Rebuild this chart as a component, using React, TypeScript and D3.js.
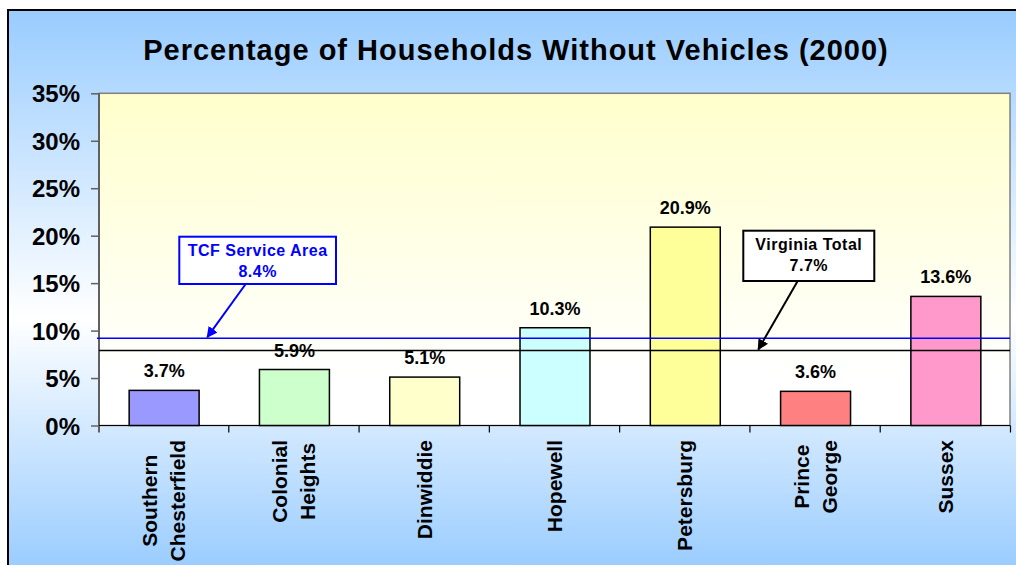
import React, { useEffect, useRef } from 'react';
import * as d3 from 'd3';

// data
const categories = ['Southern\nChesterfield', 'Colonial\nHeights', 'Dinwiddie', 'Hopewell', 'Petersburg', 'Prince\nGeorge', 'Sussex'];
const values = [3.7, 5.9, 5.1, 10.3, 20.9, 3.6, 13.6];
const barColors = ['#9999FF', '#CCFFCC', '#FFFFCC', '#CCFFFF', '#FFFF99', '#FF8080', '#FF99CC'];
const yTicks = [0, 5, 10, 15, 20, 25, 30, 35];

// reference lines: label value and the level the line sits at in the chart
const refNames = ['TCF Service Area', 'Virginia Total'];
const refValues = [8.4, 7.7];
const refLevels = [9.2, 7.9];

const FONT = '"Liberation Sans", Arial, Helvetica, sans-serif';
const W = 1016, H = 565;
const left = 99, right = 1011, top = 93.3, bottom = 425.5;

export default function App() {
  const ref = useRef<SVGSVGElement>(null);

  useEffect(() => {
    const svg = d3.select(ref.current);
    svg.selectAll('*').remove();

    const defs = svg.append('defs');
    const bg = defs.append('linearGradient').attr('id', 'bg')
      .attr('gradientUnits', 'userSpaceOnUse')
      .attr('x1', 0).attr('y1', 10).attr('x2', 0).attr('y2', 570);
    bg.append('stop').attr('offset', 0).attr('stop-color', '#99CCFF');
    bg.append('stop').attr('offset', 0.55).attr('stop-color', '#FFFFFF');
    bg.append('stop').attr('offset', 1).attr('stop-color', '#99CCFF');

    const pg = defs.append('linearGradient').attr('id', 'plotbg')
      .attr('x1', 0).attr('y1', 0).attr('x2', 0).attr('y2', 1);
    pg.append('stop').attr('offset', 0).attr('stop-color', '#FFFFCC');
    pg.append('stop').attr('offset', 0.85).attr('stop-color', '#FFFFFF');

    const marker = (id: string, color: string) => defs.append('marker')
      .attr('id', id).attr('viewBox', '0 0 10 10')
      .attr('refX', 9).attr('refY', 5)
      .attr('markerWidth', 5.5).attr('markerHeight', 5.5)
      .attr('markerUnits', 'strokeWidth')
      .attr('orient', 'auto')
      .append('path').attr('d', 'M0,0 L10,5 L0,10 z').attr('fill', color);
    marker('arrBlue', '#0000FF');
    marker('arrBlack', '#000000');

    // chart area background
    svg.append('rect')
      .attr('x', 8).attr('y', 10).attr('width', W + 20).attr('height', 700)
      .attr('fill', 'url(#bg)').attr('stroke', '#000').attr('stroke-width', 2);

    svg.append('text')
      .attr('x', 516).attr('y', 59.5)
      .attr('text-anchor', 'middle')
      .attr('font-family', FONT).attr('font-weight', 'bold').attr('font-size', 29)
      .attr('letter-spacing', 1)
      .text('Percentage of Households Without Vehicles (2000)');

    const x = d3.scaleBand<number>()
      .domain(d3.range(categories.length))
      .range([left, right])
      .paddingInner(0.463)
      .paddingOuter(0.2315);
    const y = d3.scaleLinear().domain([0, 35]).range([bottom, top]);

    // plot area
    svg.append('rect')
      .attr('x', left).attr('y', top)
      .attr('width', right - 1 - left).attr('height', bottom - top)
      .attr('fill', 'url(#plotbg)').attr('stroke', '#808080').attr('stroke-width', 1.5);

    // y axis
    const yAxis = svg.append('g')
      .attr('transform', `translate(${left},0)`)
      .call(d3.axisLeft(y).tickValues(yTicks).tickSize(8).tickPadding(11).tickFormat(d => `${d}%`));
    yAxis.select('.domain').remove();
    yAxis.selectAll('.tick line').attr('stroke', '#606060').attr('stroke-width', 1.5);
    yAxis.selectAll('.tick text')
      .attr('font-family', FONT).attr('font-weight', 'bold').attr('font-size', 24)
      .attr('fill', '#000').attr('dy', '0.36em');
    svg.append('line')
      .attr('x1', left).attr('x2', left).attr('y1', top).attr('y2', bottom + 7)
      .attr('stroke', '#606060').attr('stroke-width', 2);

    // bars
    svg.append('g').selectAll('rect')
      .data(values)
      .enter()
      .append('rect')
      .attr('x', (d, i) => x(i)!)
      .attr('y', d => y(d))
      .attr('width', x.bandwidth())
      .attr('height', d => y(0) - y(d))
      .attr('fill', (d, i) => barColors[i])
      .attr('stroke', '#000').attr('stroke-width', 1.5);

    svg.append('g').selectAll('text')
      .data(values)
      .enter()
      .append('text')
      .attr('x', (d, i) => x(i)! + x.bandwidth() / 2)
      .attr('y', d => y(d) - 13)
      .attr('text-anchor', 'middle')
      .attr('font-family', FONT).attr('font-weight', 'bold').attr('font-size', 18)
      .text(d => `${d.toFixed(1)}%`);

    // x axis
    svg.append('line')
      .attr('x1', left).attr('x2', right - 1).attr('y1', bottom).attr('y2', bottom)
      .attr('stroke', '#000').attr('stroke-width', 1.2);
    svg.append('g').selectAll('line')
      .data(d3.range(1, categories.length + 1))
      .enter()
      .append('line')
      .attr('x1', i => left + i * x.step() - 0.5)
      .attr('x2', i => left + i * x.step() - 0.5)
      .attr('y1', bottom).attr('y2', bottom + 7)
      .attr('stroke', '#000').attr('stroke-width', 1.2);

    // category labels, rotated, lines centred, block top-aligned
    categories.forEach((c, i) => {
      const lines = c.split('\n');
      const g = svg.append('g');
      const texts = lines.map((l, j) => g.append('text')
        .attr('text-anchor', 'middle')
        .attr('y', (j - (lines.length - 1) / 2) * 28 + 7)
        .attr('font-family', FONT).attr('font-weight', 'bold').attr('font-size', 21)
        .text(l));
      const maxLen = d3.max(texts, t => (t.node() as SVGTextElement).getComputedTextLength()) || 0;
      const cx = x(i)! + x.bandwidth() / 2;
      g.attr('transform', `translate(${cx},${440 + maxLen / 2}) rotate(-90)`);
    });

    // reference lines
    svg.append('line')
      .attr('x1', left - 2).attr('x2', right - 1)
      .attr('y1', y(refLevels[0])).attr('y2', y(refLevels[0]))
      .attr('stroke', '#0000FF').attr('stroke-width', 1.5);
    svg.append('line')
      .attr('x1', left).attr('x2', right - 1)
      .attr('y1', y(refLevels[1])).attr('y2', y(refLevels[1]))
      .attr('stroke', '#000').attr('stroke-width', 1.5);

    // callouts
    const callout = (k: number, bx: number, by: number, bw: number, bh: number,
      color: string, marker: string, ax: number, tx: number) => {
      svg.append('line')
        .attr('x1', ax).attr('y1', by + bh)
        .attr('x2', tx).attr('y2', y(refLevels[k]) - 1)
        .attr('stroke', color).attr('stroke-width', 2)
        .attr('marker-end', `url(#${marker})`);
      svg.append('rect')
        .attr('x', bx).attr('y', by).attr('width', bw).attr('height', bh)
        .attr('fill', '#fff').attr('stroke', color).attr('stroke-width', 2);
      const t = svg.append('text')
        .attr('text-anchor', 'middle')
        .attr('font-family', FONT).attr('font-weight', 'bold').attr('font-size', 16)
        .attr('letter-spacing', 0.5)
        .attr('fill', color);
      t.append('tspan').attr('x', bx + bw / 2).attr('y', by + 19).text(refNames[k]);
      t.append('tspan').attr('x', bx + bw / 2).attr('y', by + 40.5).text(`${refValues[k].toFixed(1)}%`);
    };
    callout(0, 179.3, 236.7, 156.7, 47.3, '#0000FF', 'arrBlue', 245.7, 207.3);
    callout(1, 743.3, 230.7, 131, 50.3, '#000000', 'arrBlack', 797.7, 758.3);
  }, []);

  return (
    <svg ref={ref} width={W} height={H}
      style={{ position: 'absolute', left: 0, top: 0, display: 'block', background: '#fff' }} />
  );
}
